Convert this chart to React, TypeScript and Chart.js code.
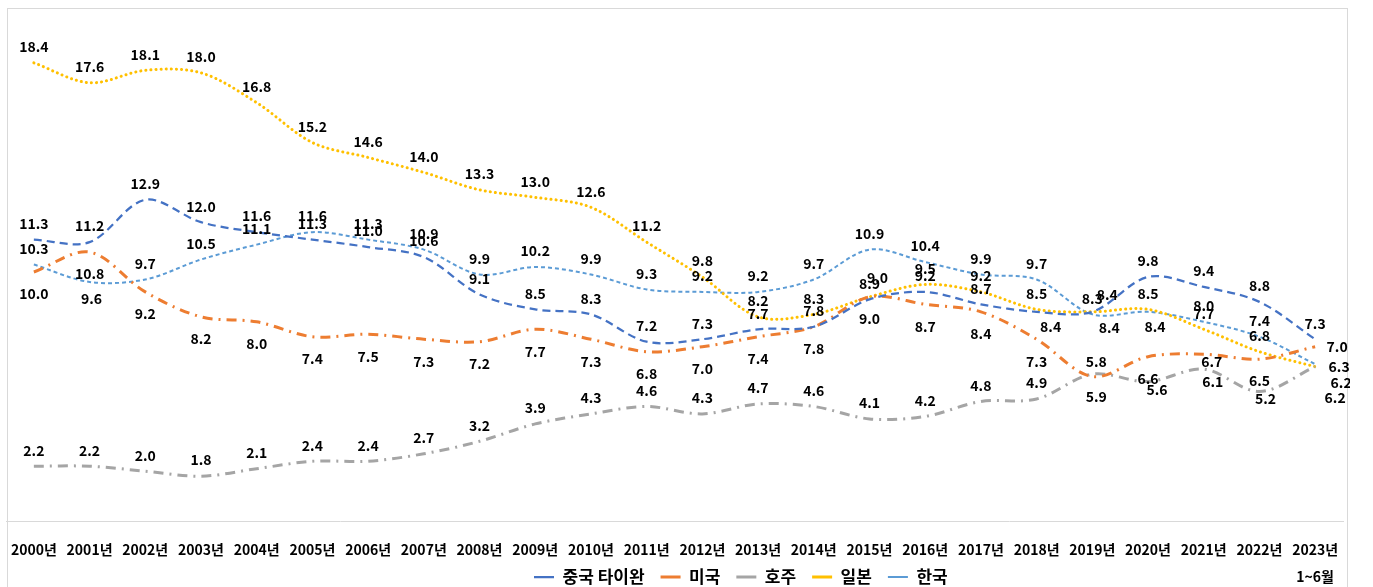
import React, { useEffect, useRef } from 'react';
import { Chart, registerables } from 'chart.js';

Chart.register(...registerables);

// ---------------- data ----------------
const CATEGORIES = [
  '2000년', '2001년', '2002년', '2003년', '2004년', '2005년', '2006년', '2007년',
  '2008년', '2009년', '2010년', '2011년', '2012년', '2013년', '2014년', '2015년',
  '2016년', '2017년', '2018년', '2019년', '2020년', '2021년', '2022년', '2023년',
];
const LAST_CATEGORY_NOTE = '1~6월';

const SERIES_NAMES = ['중국 타이완', '미국', '호주', '일본', '한국'];

const TAIWAN = [11.3, 11.2, 12.9, 12.0, 11.6, 11.3, 11.0, 10.6, 9.1, 8.5, 8.3, 7.2, 7.3, 7.7, 7.8, 8.9, 9.2, 8.7, 8.4, 8.4, 9.8, 9.4, 8.8, 7.3];
const USA = [10.0, 10.8, 9.2, 8.2, 8.0, 7.4, 7.5, 7.3, 7.2, 7.7, 7.3, 6.8, 7.0, 7.4, 7.8, 9.0, 8.7, 8.4, 7.3, 5.8, 6.6, 6.7, 6.5, 7.0];
const AUSTRALIA = [2.2, 2.2, 2.0, 1.8, 2.1, 2.4, 2.4, 2.7, 3.2, 3.9, 4.3, 4.6, 4.3, 4.7, 4.6, 4.1, 4.2, 4.8, 4.9, 5.9, 5.6, 6.1, 5.2, 6.2];
const JAPAN = [18.4, 17.6, 18.1, 18.0, 16.8, 15.2, 14.6, 14.0, 13.3, 13.0, 12.6, 11.2, 9.8, 8.2, 8.3, 9.0, 9.5, 9.2, 8.5, 8.4, 8.5, 7.7, 6.8, 6.2];
const KOREA = [10.3, 9.6, 9.7, 10.5, 11.1, 11.6, 11.3, 10.9, 9.9, 10.2, 9.9, 9.3, 9.2, 9.2, 9.7, 10.9, 10.4, 9.9, 9.7, 8.3, 8.4, 8.0, 7.4, 6.3];

// ---------------- styles ----------------
const FONT = '"Noto Sans CJK KR", "Noto Sans", sans-serif';
const COLORS = ['#4472C4', '#ED7D31', '#A5A5A5', '#FFC000', '#5B9BD5'];
const WIDTHS = [2.25, 3, 3, 3, 2];
const DASHES = [[8, 5], [10, 6, 2, 6], [10, 6, 2, 6], [0.1, 5], [4, 3]];
const CAPS = ['butt', 'butt', 'butt', 'round', 'butt'];

const ABOVE = [0, -16];
const BELOW = [0, 22];
// label placement per series: default offset + per-index exceptions (px)
const LABEL_PLACEMENT = [
  { base: ABOVE, ex: { 18: [14, 15], 19: [17, 16] } },
  { base: BELOW, ex: { 19: [4, -15], 21: [8, 8], 23: [22, 0] } },
  { base: ABOVE, ex: { 19: [4, 23], 20: [9, 8], 21: [9, 13], 22: [6, 7], 23: [20, 31] } },
  { base: ABOVE, ex: { 15: [8, -19], 19: [15, -17], 23: [26, 16] } },
  { base: ABOVE, ex: { 1: [2, 17], 20: [7, 15], 23: [24, 3] } },
];

// legend placement inside the canvas (canvas px)
const LEGEND_START_X = 534;
const LEGEND_CENTER_Y = 568;
const LEGEND_PADDING = 16;
const LEGEND_FONT_SIZE = 17;

const valueLabels = {
  id: 'valueLabels',
  afterDatasetsDraw(chart: any) {
    const ctx = chart.ctx;
    ctx.save();
    ctx.font = `bold 14px ${FONT}`;
    ctx.fillStyle = '#000';
    ctx.textAlign = 'center';
    ctx.textBaseline = 'middle';
    chart.data.datasets.forEach((ds: any, di: number) => {
      const meta = chart.getDatasetMeta(di);
      const place = LABEL_PLACEMENT[di];
      meta.data.forEach((pt: any, i: number) => {
        const v = ds.data[i];
        const off = (place.ex as any)[i] || place.base;
        ctx.fillText(Number(v).toFixed(1), pt.x + off[0], pt.y + off[1]);
      });
    });
    ctx.restore();
  },
};

const legendNudge = {
  id: 'legendNudge',
  afterLayout(chart: any) {
    const lg = chart.legend;
    if (!lg || !lg.lineWidths) return;
    const startX = (lg.left + LEGEND_PADDING + lg.right - lg.lineWidths[0]) / 2;
    const dx = LEGEND_START_X - startX;
    const centerY = lg.top + LEGEND_PADDING + LEGEND_FONT_SIZE / 2;
    const dy = LEGEND_CENTER_Y - centerY;
    lg.left += dx;
    lg.right += dx;
    lg.top += dy;
    lg.bottom += dy;
  },
};

export default function App() {
  const canvasRef = useRef<HTMLCanvasElement | null>(null);

  useEffect(() => {
    document.documentElement.style.overflow = 'hidden';
    document.body.style.overflow = 'hidden';
    const canvas = canvasRef.current;
    if (!canvas) return;
    const seriesData = [TAIWAN, USA, AUSTRALIA, JAPAN, KOREA];
    const labels = CATEGORIES.map((c, i) =>
      i === CATEGORIES.length - 1 ? [c, LAST_CATEGORY_NOTE] : c
    );
    const chart = new Chart(canvas, {
      type: 'line',
      data: {
        labels,
        datasets: seriesData.map((d, i) => ({
          label: SERIES_NAMES[i],
          data: d,
          borderColor: COLORS[i],
          backgroundColor: COLORS[i],
          borderWidth: WIDTHS[i],
          borderDash: DASHES[i],
          borderCapStyle: CAPS[i] as any,
          pointRadius: 0,
          pointHoverRadius: 0,
          tension: 0.33,
          fill: false,
          order: i,
        })),
      },
      options: {
        responsive: true,
        maintainAspectRatio: false,
        animation: false,
        layout: { padding: { top: 14, right: 7, bottom: 0, left: 6 } },
        scales: {
          x: {
            type: 'category',
            offset: true,
            grid: { display: false, drawTicks: true, tickLength: 15 },
            border: { display: true, color: '#d9d9d9', width: 1 },
            ticks: {
              autoSkip: false,
              maxRotation: 0,
              padding: 0,
              color: '#000',
              font: { family: FONT, size: 14, weight: 'bold', lineHeight: 27 / 14 },
            },
          },
          y: {
            display: false,
            min: 0,
            max: 20,
          },
        },
        plugins: {
          legend: {
            position: 'bottom',
            labels: {
              usePointStyle: true,
              pointStyle: 'line',
              pointStyleWidth: 20,
              padding: LEGEND_PADDING,
              color: '#000',
              font: { family: FONT, size: LEGEND_FONT_SIZE, weight: 'bold' },
            },
          },
          tooltip: { enabled: false },
        },
      },
      plugins: [valueLabels, legendNudge],
    });
    return () => chart.destroy();
  }, []);

  return (
    <div style={{ position: 'absolute', left: 0, top: 0, width: 1373, height: 587, overflow: 'hidden' }}>
      <div
        style={{
          position: 'absolute',
          left: 7,
          top: 8,
          width: 1341,
          height: 700,
          boxSizing: 'border-box',
          border: '1px solid #d9d9d9',
          background: '#fff',
        }}
      />
      <div style={{ position: 'absolute', left: 0, top: 9, width: 1350, height: 624 }}>
        <canvas ref={canvasRef} />
      </div>
    </div>
  );
}
